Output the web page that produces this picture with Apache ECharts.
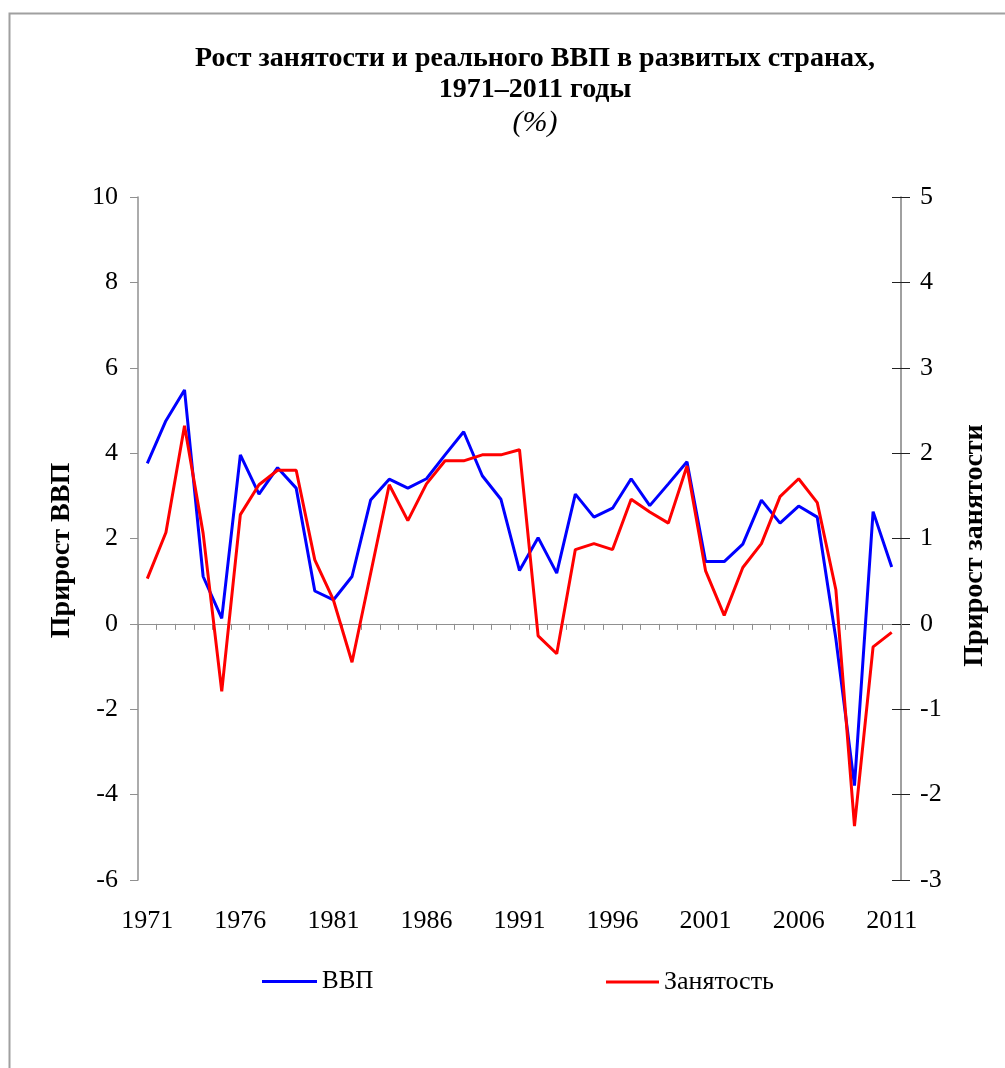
<!DOCTYPE html>
<html>
<head>
    <meta charset="UTF-8">
    <title>Рост занятости и реального ВВП</title>
    <script src="https://cdn.jsdelivr.net/npm/echarts@6/dist/echarts.min.js"></script>
    <style>
        html, body { margin: 0; padding: 0; background: #fff; }
        #main { width: 1005px; height: 1068px; }
    </style>
</head>
<body>
<div id="main"></div>
<script type="text/javascript">
    // годы
    var years = [];
    for (var y = 1971; y <= 2011; y++) years.push(String(y));

    // прирост ВВП, % (левая ось)
    var gdp = [3.76, 4.76, 5.48, 1.11, 0.13, 3.96, 3.04, 3.66, 3.18, 0.77,
               0.56, 1.11, 2.90, 3.39, 3.18, 3.40, 3.96, 4.50, 3.47, 2.92,
               1.25, 2.02, 1.19, 3.04, 2.50, 2.71, 3.40, 2.77, 3.28, 3.80,
               1.46, 1.46, 1.87, 2.90, 2.36, 2.76, 2.50, -0.35, -3.79, 2.63,
               1.33];

    // прирост занятости, % (правая ось)
    var emp = [0.53, 1.07, 2.32, 1.06, -0.79, 1.28, 1.63, 1.80, 1.80, 0.75,
               0.28, -0.45, 0.59, 1.63, 1.21, 1.64, 1.91, 1.91, 1.98, 1.98,
               2.04, -0.14, -0.35, 0.87, 0.94, 0.87, 1.46, 1.31, 1.18, 1.85,
               0.62, 0.10, 0.66, 0.94, 1.49, 1.70, 1.42, 0.40, -2.37, -0.27,
               -0.10];

    var serif = '"Liberation Serif", "DejaVu Serif", serif';

    var myChart = echarts.init(document.getElementById('main'));

    var option = {
        animation: false,
        backgroundColor: '#FFFFFF',
        title: {
            text: 'Рост занятости и реального ВВП в развитых странах,\n1971–2011 годы',
            subtext: '(%)',
            left: 530,
            top: 38,
            textAlign: 'center',
            itemGap: 2,
            textStyle: {
                fontFamily: serif,
                fontWeight: 'bold',
                fontSize: 28,
                lineHeight: 31,
                color: '#000'
            },
            subtextStyle: {
                fontFamily: serif,
                fontStyle: 'italic',
                fontSize: 30,
                lineHeight: 32,
                color: '#000'
            }
        },
        legend: [{
            data: ['ВВП'],
            left: 257,
            top: 964,
            icon: 'rect',
            itemWidth: 55,
            itemHeight: 3,
            textStyle: { fontFamily: serif, fontSize: 25, color: '#000' }
        }, {
            data: ['Занятость'],
            left: 601,
            top: 964,
            icon: 'rect',
            itemWidth: 53,
            itemHeight: 3,
            textStyle: { fontFamily: serif, fontSize: 26, color: '#000' }
        }],
        grid: {
            left: 138,
            right: 104,
            top: 197,
            bottom: 188,
            containLabel: false
        },
        xAxis: [{
            type: 'category',
            data: years,
            position: 'bottom',
            axisLine: { show: false, onZero: false },
            axisTick: { show: false },
            axisLabel: {
                interval: 4,
                margin: 28,
                fontFamily: serif,
                fontSize: 26,
                color: '#000'
            },
            splitLine: { show: false }
        }, {
            type: 'category',
            data: years,
            position: 'bottom',
            axisLine: { show: true, onZero: true, onZeroAxisIndex: 0, lineStyle: { color: '#909090', width: 1 } },
            axisTick: { show: true, interval: 0, length: 6, lineStyle: { color: '#909090' } },
            axisLabel: { show: false },
            splitLine: { show: false }
        }],
        yAxis: [{
            type: 'value',
            position: 'left',
            min: -6,
            max: 10,
            interval: 2,
            name: 'Прирост ВВП',
            nameLocation: 'middle',
            nameRotate: 90,
            nameGap: 62,
            nameTextStyle: { fontFamily: serif, fontWeight: 'bold', fontSize: 28, color: '#000', padding: [0, 24, 0, 0] },
            axisLine: { show: true, lineStyle: { color: '#909090', width: 1.5 } },
            axisTick: { show: true, length: 8, lineStyle: { color: '#909090' } },
            axisLabel: { margin: 20, fontFamily: serif, fontSize: 26, color: '#000' },
            splitLine: { show: false }
        }, {
            type: 'value',
            position: 'right',
            min: -3,
            max: 5,
            interval: 1,
            name: 'Прирост занятости',
            nameLocation: 'middle',
            nameRotate: 90,
            nameGap: 60,
            nameTextStyle: { fontFamily: serif, fontWeight: 'bold', fontSize: 28, color: '#000', padding: [0, 14, 0, 0] },
            axisLine: { show: true, lineStyle: { color: '#808080', width: 1.5 } },
            axisTick: { show: true, length: 9, lineStyle: { color: '#222' } },
            axisLabel: { margin: 19, fontFamily: serif, fontSize: 26, color: '#000' },
            splitLine: { show: false }
        }, {
            // внутренняя половина перекрестных делений правой оси
            type: 'value',
            position: 'right',
            min: -3,
            max: 5,
            interval: 1,
            axisLine: { show: false },
            axisTick: { show: true, inside: true, length: 9, lineStyle: { color: '#222' } },
            axisLabel: { show: false },
            splitLine: { show: false }
        }],
        graphic: [{
            type: 'rect',
            left: 7,
            top: 11,
            shape: { width: 1100, height: 1100 },
            style: { fill: 'none', stroke: '#a0a0a0', lineWidth: 2 },
            silent: true,
            z: -1
        }],
        series: [{
            name: 'ВВП',
            type: 'line',
            xAxisIndex: 0,
            yAxisIndex: 0,
            data: gdp,
            showSymbol: false,
            color: '#0000FF',
            lineStyle: { color: '#0000FF', width: 3 }
        }, {
            name: 'Занятость',
            type: 'line',
            xAxisIndex: 0,
            yAxisIndex: 1,
            data: emp,
            showSymbol: false,
            color: '#FF0000',
            lineStyle: { color: '#FF0000', width: 3 }
        }]
    };

    myChart.setOption(option);
</script>
</body>
</html>
